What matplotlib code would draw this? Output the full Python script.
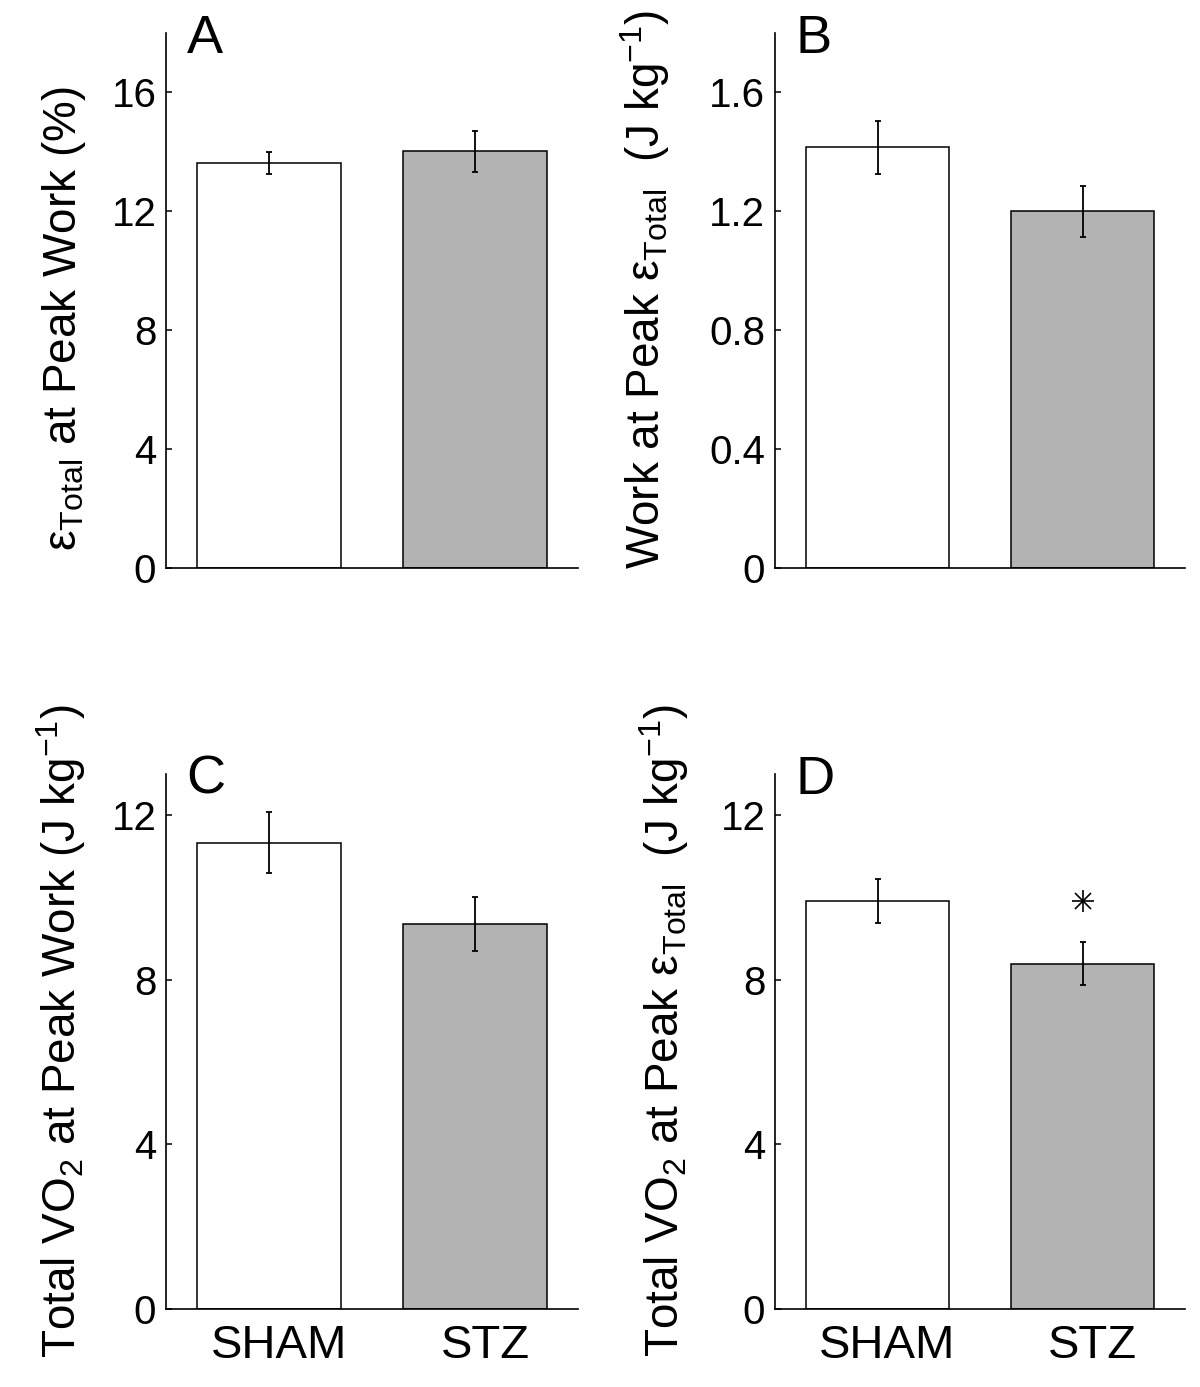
import numpy as np
import matplotlib
matplotlib.use("Agg")
import matplotlib.pyplot as plt
import matplotlib.transforms as mtransforms

plt.rcParams['font.family'] = ['Liberation Sans', 'DejaVu Sans']
plt.rcParams['mathtext.fontset'] = 'custom'
plt.rcParams['mathtext.rm'] = 'Liberation Sans'
plt.rcParams['mathtext.it'] = 'Liberation Sans'

groups = ["SHAM", "STZ"]
bar_colors = ["white", "#b3b3b3"]

# panel A: strain at peak work (%)
strain_mean = [13.62, 14.02]
strain_err = [0.38, 0.69]
# panel B: work at peak strain (J kg-1)
work_mean = [1.415, 1.20]
work_err = [0.09, 0.085]
# panel C: total VO2 at peak work
vo2_work_mean = [11.33, 9.36]
vo2_work_err = [0.74, 0.65]
# panel D: total VO2 at peak strain
vo2_strain_mean = [9.92, 8.39]
vo2_strain_err = [0.53, 0.52]
sig_d = [False, True]

panels = [
    ("A", strain_mean, strain_err, [0, 18], [0, 4, 8, 12, 16], ["0", "4", "8", "12", "16"],
     "ε$_{\\mathrm{Total}}$ at Peak Work (%)", -0.19, 0.467, None),
    ("B", work_mean, work_err, [0, 1.8], [0, 0.4, 0.8, 1.2, 1.6], ["0", "0.4", "0.8", "1.2", "1.6"],
     "Work at Peak ε$_{\\mathrm{Total}}$  (J kg$^{\\mathrm{-1}}$)", -0.25, 0.52, None),
    ("C", vo2_work_mean, vo2_work_err, [0, 13], [0, 4, 8, 12], ["0", "4", "8", "12"],
     "Total VO$_{\\mathrm{2}}$ at Peak Work (J kg$^{\\mathrm{-1}}$)", -0.19, 0.52, None),
    ("D", vo2_strain_mean, vo2_strain_err, [0, 13], [0, 4, 8, 12], ["0", "4", "8", "12"],
     "Total VO$_{\\mathrm{2}}$ at Peak ε$_{\\mathrm{Total}}$  (J kg$^{\\mathrm{-1}}$)", -0.205, 0.52, sig_d),
]

W, H = 1200, 1387
fig = plt.figure(figsize=(W / 100, H / 100), dpi=100)

# axes boxes in pixels: left, top, right, bottom
boxes = [(166, 33, 578, 568), (775, 33, 1185, 568),
         (166, 774, 578, 1309), (775, 774, 1185, 1309)]

x = np.arange(1, len(groups) + 1)
for i, (letter, mean, err, ylim, yt, ytl, ylab, labx, laby, sig) in enumerate(panels):
    l, t, r, b = boxes[i]
    ax = fig.add_axes([l / W, 1 - b / H, (r - l) / W, (b - t) / H])
    ax.bar(x, mean, width=0.7, color=bar_colors, edgecolor="black", linewidth=1.1, zorder=2)
    ax.errorbar(x, mean, yerr=err, fmt="none", ecolor="black", elinewidth=1.3,
                capsize=2, capthick=1.3, zorder=3)
    if sig is not None:
        # MATLAB-style asterisk: plus and cross overlaid
        for xi, m, e, s in zip(x, mean, err, sig):
            if s:
                ax.plot(xi, m + e + 1.0, marker="+", markersize=16,
                        markeredgewidth=1.2, color="black", zorder=4)
                ax.plot(xi, m + e + 1.0, marker="x", markersize=11.3,
                        markeredgewidth=1.2, color="black", zorder=4)
    ax.set_xlim(0.5, 2.5)
    ax.set_ylim(ylim)
    ax.set_yticks(yt)
    ax.set_yticklabels(ytl)
    ax.spines["top"].set_visible(False)
    ax.spines["right"].set_visible(False)
    ax.spines["left"].set_linewidth(1.2)
    ax.spines["bottom"].set_linewidth(1.2)
    ax.tick_params(axis="y", direction="in", length=4, width=1.1, labelsize=29, pad=7)
    if i >= 2:
        ax.set_xticks(x)
        ax.set_xticklabels(groups)
        ax.tick_params(axis="x", length=0, labelsize=34, pad=11)
        # group labels sit slightly right of the bar centres in the original
        shift = mtransforms.ScaledTranslation(0.10, 0, fig.dpi_scale_trans)
        for lab in ax.get_xticklabels():
            lab.set_transform(lab.get_transform() + shift)
    else:
        ax.set_xticks([])
    ax.set_ylabel(ylab, fontsize=33)
    ax.yaxis.set_label_coords(labx, laby)
    ax.text(0.05, 0.963, letter, transform=ax.transAxes, fontsize=39,
            ha="left", va="baseline")

fig.savefig("out.png", dpi=100)
